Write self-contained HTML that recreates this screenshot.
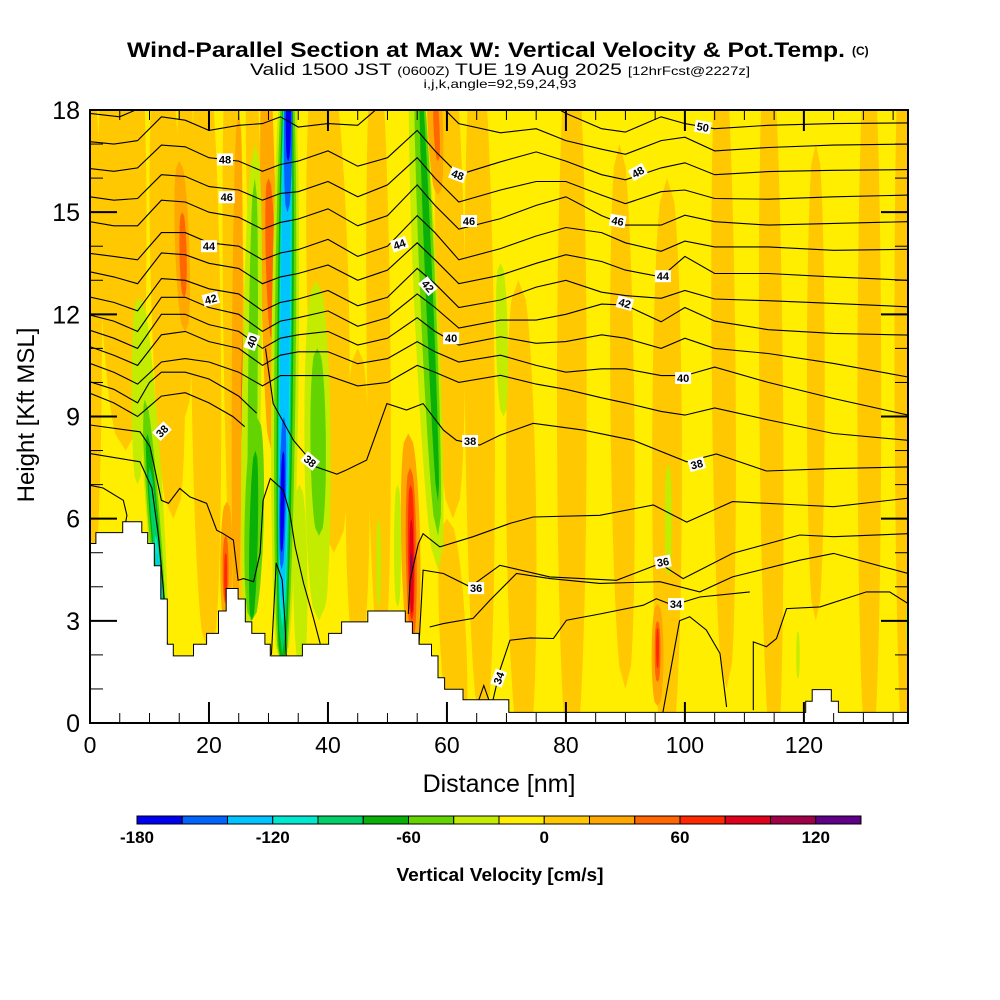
<!DOCTYPE html>
<html><head><meta charset="utf-8"><style>
html,body{margin:0;padding:0;background:#fff;}
svg{display:block;font-family:"Liberation Sans",sans-serif;}
</style></head><body>
<svg id="chart" width="1000" height="1000" viewBox="0 0 1000 1000" xmlns="http://www.w3.org/2000/svg">
<defs><clipPath id="plotclip"><rect x="90" y="110" width="818" height="613"/></clipPath></defs>
<rect x="0" y="0" width="1000" height="1000" fill="#fff"/>
<text x="127" y="57" font-size="21" font-weight="bold" textLength="718" lengthAdjust="spacingAndGlyphs">Wind-Parallel Section at Max W: Vertical Velocity &amp; Pot.Temp.</text>
<text x="852" y="55" font-size="12" font-weight="bold">(C)</text>
<text x="250" y="75" font-size="17" textLength="500" lengthAdjust="spacingAndGlyphs">Valid 1500 JST <tspan font-size="12">(0600Z)</tspan> TUE 19 Aug 2025 <tspan font-size="12">[12hrFcst@2227z]</tspan></text>
<text x="500" y="88" font-size="12" text-anchor="middle" textLength="153" lengthAdjust="spacingAndGlyphs">i,j,k,angle=92,59,24,93</text>
<g id="field" clip-path="url(#plotclip)"></g>
<g id="axes"></g>
<g id="cbar"></g>
<text x="499" y="792" font-size="25" text-anchor="middle">Distance [nm]</text>
<text x="0" y="0" font-size="24" text-anchor="middle" transform="translate(34,415) rotate(-90)">Height [Kft MSL]</text>
<text x="500" y="881" font-size="18" font-weight="bold" text-anchor="middle" textLength="207" lengthAdjust="spacingAndGlyphs">Vertical Velocity [cm/s]</text>
</svg>
<script>
// ---- data ----
const binColors = ['#0000f0','#0064ff','#00c4ff','#00e8d0','#00d068','#08b008','#64d400','#c4ec00','#ffee00','#ffc800','#ffa800','#ff6600','#ff2800','#e0001c','#a00048','#600088'];
const binEdges = [-180,-160,-140,-120,-100,-80,-60,-40,-20,0,20,40,60,80,100,120,140];
const cbarTicks = [-180,-120,-60,0,60,120];
const xTicks = [0,20,40,60,80,100,120];
const yTicks = [0,3,6,9,12,15,18];

// velocity features: top x, bottom x, top height, bottom height, half width (nm), value (cm/s)
const blobXTop = [4,12,19,23.5,39,48,60,65,72,81,89,97,106,114,122,131,136.5,0,45,60,8,27,16,
  15,25,29.5,23,53.5,57.5,95.4,15.5,26.2,30,22.8,53.8,58,95.4,22.8,26,53.9,95.4,54,54,
  8.5,9.2,9.6,10,11,11.2,27.8,27.7,28,27.8,38,38.2,54.5,55,55.5,69,97.2,119,137.4,35.2,39.5,48.5,51.7,8,
  33.3,33.3,33.3,33.3,33.3,33.3,33.4,32.6,33.4,32.5];
const blobXBot = [6,14,20,25,41,49,61,66,73,81,90,97,107,115,122,131,137,0,45,62,8,28,16,
  16,24.5,30.5,22.8,54.3,58.5,95.4,15.8,25.8,30.7,22.8,54.2,58.5,95.4,22.8,25.8,54.1,95.4,54.1,54,
  12.5,12.5,12.4,12.3,12,12,26.5,27,27.2,27.2,38.5,38.5,58.5,58.5,58.5,69.5,97.2,119,137.4,35.5,39.5,48.5,51.7,8,
  32.3,32.3,32.3,32.3,32.3,32.3,33.2,32.2,33.3,32.2];
const blobHTop = [20,20,20,20,20,20,20,20,13,20,17,16,20,20,17,20,20,19,11,6,20,20,20,
  16.5,18,20,6.5,8.5,20,3.5,15,12,16,5.5,7.5,18.5,3,5,11,7,2.8,6,5,
  12.5,9.5,8.5,7.5,5.5,5,17,16,9,8,13,11,20,20,19,13.5,7.6,2.7,3.5,7,5.5,6,7,12.5,
  20,20,20,20,20,20,20,9,19,8];
const blobHBot = [8,6,2,2,5,2,6,0,-1,-1,1,-1,1,-1,3,-1,-1,4,2,-1,9,12,9,
  11.5,3,8,3,2,15.5,0.5,12.5,8,11.2,3.5,2.5,16.5,1.2,3.6,9,3,1.6,3.2,4.2,
  2,2,2.5,3,3.5,3.8,2.5,3,3,3,3,5.5,4.5,5.5,6.5,9,4.3,1.3,2.3,1.5,3.5,3.4,3.4,7,
  1.5,1.5,1.5,2,2.8,3.3,15,4.5,16.5,5];
const blobW = [3.5,2.8,2.5,1.8,3.5,2,2.5,2.5,2.5,2.5,2,2.5,2,2,1.5,2,1.5,2,2,2.2,1.5,1.2,1.5,
  1.2,0.9,1.3,1.0,1.6,1.3,1.0,0.6,0.6,0.8,0.5,0.9,0.5,0.5,0.25,0.3,0.55,0.25,0.35,0.2,
  1.5,1.0,0.7,0.5,0.3,0.2,1.6,0.8,1.6,0.7,2.2,1.3,2.0,1.3,0.6,1.0,0.6,0.3,0.3,1.2,0.5,0.4,0.6,1.0,
  2.3,1.8,1.35,1.1,0.95,0.8,0.7,0.55,0.45,0.35];
const blobVal = [10,10,10,10,10,10,10,10,10,10,10,10,10,10,10,10,10,10,10,10,10,10,10,
  30,30,30,30,30,30,30,50,50,50,50,50,50,50,70,70,70,70,90,110,
  -30,-50,-70,-90,-105,-130,-30,-50,-50,-70,-30,-50,-30,-50,-70,-30,-30,-30,-30,-30,-30,-30,-30,-30,
  -30,-50,-70,-90,-105,-130,-150,-150,-170,-170];

// terrain (step breakpoints, nm / kft)
const terrainX = [0,1.0,5.5,8.7,9.7,10.8,11.9,13.0,14.0,17.4,19.6,21.6,22.9,24.9,26.1,27.2,29.4,30.3,35.7,40.1,42.3,46.7,53.0,54.2,55.3,57.4,58.5,59.6,62.7,70.4,120.3,121.4,124.6,125.8];
const terrainH = [5.27,5.59,5.91,5.59,5.27,4.62,3.64,2.31,1.97,2.31,2.63,3.29,3.95,3.64,2.97,2.63,2.31,1.97,2.31,2.63,2.97,3.29,2.97,2.63,2.31,1.97,1.33,0.99,0.68,0.31,0.64,0.98,0.64,0.31];

// potential temperature contours at common stations
const thetaX = [0,4,8,12,16,20,25,29,32,35,40,45,50,55,58,62,69,75,80,86,90,96,100,105,114,125,137.5];
const theta50 = [18.6,18.6,18.6,18.6,18.6,18.6,18.6,18.6,18.6,18.6,18.6,18.6,18.6,18.6,18.6,18.6,18.6,18.4,17.9,17.45,17.35,17.8,17.6,17.45,17.55,17.6,17.62];
const theta49 = [17.07,17.0,17.1,17.8,17.7,17.4,17.55,17.6,17.8,17.5,17.6,17.55,18.3,18.5,18.3,17.6,17.33,17.45,17.1,16.85,16.7,17.1,17.2,16.8,16.9,16.97,17.0];
const theta48 = [16.28,16.2,16.3,16.97,16.92,16.6,16.5,16.2,16.4,16.5,16.8,16.35,16.6,17.4,16.8,16.1,16.48,16.77,16.5,16.1,15.95,16.3,16.45,16.1,16.19,16.23,16.25];
const theta47 = [15.45,15.35,15.4,16.1,16.05,15.75,15.65,15.35,15.55,15.6,15.9,15.45,15.8,16.6,16.0,15.3,15.65,15.9,15.9,15.5,15.25,15.6,15.65,15.4,15.38,15.45,15.5];
const theta46 = [14.72,14.6,14.6,15.35,15.3,15.0,14.85,14.5,14.7,14.8,15.1,14.6,14.9,15.8,15.2,14.5,14.81,15.2,15.45,14.9,14.62,14.62,14.91,14.72,14.62,14.67,14.72];
const theta45 = [13.79,13.7,13.6,14.4,14.4,14.1,14.0,13.6,13.8,13.9,14.2,13.7,14.0,14.9,14.4,13.6,13.93,14.3,14.55,14.4,14.1,13.85,14.15,13.98,13.98,13.88,13.91];
const theta44 = [13.25,13.1,12.9,13.8,13.75,13.5,13.35,12.9,13.1,13.2,13.45,13.0,13.3,14.1,13.6,12.9,13.15,13.5,13.75,13.55,13.3,13.1,13.7,13.2,13.2,13.1,13.0];
const theta43 = [12.51,12.35,12.1,13.05,13.0,12.75,12.6,12.1,12.35,12.45,12.7,12.25,12.5,13.35,12.9,12.2,12.42,12.8,13.0,12.65,12.55,12.47,12.7,12.45,12.4,12.32,12.22];
const theta42 = [11.98,11.8,11.5,12.5,12.5,12.2,12.0,11.5,11.8,11.9,12.1,11.65,11.9,12.6,12.2,11.6,11.83,11.83,12.0,12.3,12.27,11.78,12.2,11.8,11.55,11.44,11.39];
const theta41 = [11.53,11.3,11.0,12.0,12.0,11.7,11.5,11.0,11.3,11.4,11.5,11.1,11.3,11.9,11.5,11.1,11.34,11.15,11.2,11.4,11.3,11.0,11.3,11.0,10.85,10.56,10.16];
const theta40 = [11.05,10.8,10.5,11.4,11.5,11.2,11.0,10.5,10.8,10.9,10.9,10.55,10.7,11.2,10.9,10.6,10.8,10.5,10.3,10.4,10.4,10.2,10.2,10.45,10.0,9.53,9.04];
const theta39 = [10.56,10.3,9.95,10.6,10.7,10.6,10.3,9.9,10.2,10.2,10.2,9.9,10.0,10.5,10.3,10.0,10.21,9.95,9.8,9.55,9.4,9.15,9.04,9.25,8.9,8.5,8.3];

// partial contours with their own stations
const partXs = [
  [0,4,8,10,12,16,20,25,28],
  [0,4,8,10,12,16,20,24,26],
  [0,8.4,10.1,12.0,13.2,15.1,16.8,19.6,21.3,22.4,24.1,24.9,25.8,27.5,28.6,29.1,30.3,32.5,33.6,34.5,35.9,37.5,38.7],
  [0,8.4,10.4,11.5,12.3,13.0],
  [0,2.2,5.6,6.2,6.0],
  [29.5,30.8,34.2,38,41.5,43.1,46.5,49.9,53.2,56,59.4,61.6,65.5,68.9,74.5,82.9,91.3,100.3,105.3,113.7,125,137.5],
  [53.5,53.8,55.2,56,58.8,64.4,70.6,74.5,85.7,94.7,100.3,108,119.3,125,137.5],
  [55.3,56,59.4,63.9,68.9,77.3,88.5,95.8,99.7,108,119.3,125,137.5],
  [57.1,59.4,64.4,67.2,71.7,77.3,85.7,95.8,102.5,108,119.3,125,137.5],
  [67.5,68.9,70.6,74,77.9,80.1,85.7,93,95.2,98,102.5,110.9],
  [65.1,66.2,67.2],
  [96.3,99.1,100.8,103.6,105.9,107],
  [111.5,111.5,113.7,115.4,117.1,122.7,130.5,134.4,137.5],
  [30.5,31.3,32.3,32.8,33.0],
  [0,5,9,11]
];
const partHs = [
  [10.02,9.8,9.4,10.0,10.3,10.3,10.1,9.6,9.1],
  [9.68,9.4,9.0,9.3,9.6,9.7,9.4,9.0,8.7],
  [8.75,8.55,8.11,6.54,6.45,6.89,6.64,6.45,5.66,5.56,5.37,4.19,4.24,4.15,4.98,6.54,7.18,6.84,6.15,5.17,4.1,3.12,2.33],
  [7.91,7.67,6.9,5.5,4.0,2.3],
  [6.98,6.9,6.54,6.1,5.9],
  [11.0,9.38,8.3,7.52,7.31,7.43,7.72,9.38,9.19,9.38,8.6,8.3,8.16,8.45,8.8,8.6,8.3,7.67,7.9,7.4,7.47,7.52],
  [3.2,4.19,5.27,5.56,5.17,5.47,5.86,6.05,6.1,6.4,5.9,6.5,6.4,6.35,6.6],
  [2.3,4.49,4.39,4.0,4.63,4.29,4.19,4.68,4.24,4.98,5.52,5.47,5.56],
  [2.82,2.92,3.07,3.6,4.39,4.24,4.1,4.15,3.85,4.29,4.78,4.98,4.39],
  [0.5,1.55,2.43,2.5,2.48,3.02,3.2,3.46,3.65,3.46,3.7,3.85],
  [0.55,1.1,0.6],
  [0.31,3.0,3.12,2.73,2.04,0.47],
  [0.38,2.38,2.24,2.48,3.36,3.41,3.85,3.85,3.51],
  [2.0,4.7,4.2,2.9,1.9],
  [17.9,17.8,18.1,18.5]
];

// contour labels
const labelText = ['48','46','44','42','40','38','38','48','46','44','42','40','38','36','34','50','48','46','44','42','40','38','36','34'];
const labelX = [22.7,23.0,20.0,20.3,27.2,12.1,37.0,61.8,63.7,52.0,56.8,60.7,63.9,64.9,68.7,103,92.1,88.7,96.3,89.9,99.7,102,96.3,98.5];
const labelH = [16.55,15.44,14.0,12.45,11.2,8.57,7.69,16.1,14.74,14.06,12.83,11.3,8.28,3.96,1.32,17.5,16.18,14.74,13.12,12.33,10.13,7.6,4.73,3.49];
const labelRot = [0,0,0,-15,-70,-45,40,20,0,-20,50,0,0,0,-70,10,-30,10,0,15,0,-15,-10,0];

// ---- drawing ----
const NS = 'http://www.w3.org/2000/svg';
const X0 = 90, X1 = 908, Y0 = 723, Y1 = 110, XMAX = 137.5, YMAX = 18;
function sx(v){ return X0 + v * (X1 - X0) / XMAX; }
function sy(v){ return Y0 - v * (Y0 - Y1) / YMAX; }
function colorFor(v){
  let i = Math.floor((v - binEdges[0]) / 20);
  if (i < 0) i = 0; if (i > binColors.length - 1) i = binColors.length - 1;
  return binColors[i];
}
function mk(tag, attrs, parent){
  const e = document.createElementNS(NS, tag);
  for (const k in attrs) e.setAttribute(k, attrs[k]);
  parent.appendChild(e);
  return e;
}
const field = document.getElementById('field');
const axes = document.getElementById('axes');
const cbar = document.getElementById('cbar');

const bg = mk('rect', {x:X0, y:Y1, width:X1-X0, height:Y0-Y1, fill:colorFor(-10)}, field);



for (let i = 0; i < blobVal.length; i++) {
  const left = [], right = [];
  const n = 24;
  for (let k = 0; k <= n; k++) {
    const t = k / n;
    const h = blobHTop[i] + (blobHBot[i] - blobHTop[i]) * t;
    const c = blobXTop[i] + (blobXBot[i] - blobXTop[i]) * t;
    const hw = blobW[i] * Math.pow(Math.sin(Math.PI * t), 0.35);
    left.push(sx(c - hw).toFixed(1) + ',' + sy(h).toFixed(1));
    right.unshift(sx(c + hw).toFixed(1) + ',' + sy(h).toFixed(1));
  }
  const p = mk('polygon', {points: left.concat(right).join(' '), fill: colorFor(blobVal[i])}, field);
  
  
}

function drawLine(xs, hs, name){
  const pts = xs.map((x, j) => sx(x).toFixed(1) + ',' + sy(hs[j]).toFixed(1)).join(' ');
  const l = mk('polyline', {points: pts, fill:'none', stroke:'#000', 'stroke-width':1.1}, field);
  
  
}
const thetaRows = [theta50,theta49,theta48,theta47,theta46,theta45,theta44,theta43,theta42,theta41,theta40,theta39];
thetaRows.forEach(r => drawLine(thetaX, r, 'theta-contour'));
partXs.forEach((xs, i) => drawLine(xs, partHs[i], 'theta-contour'));

// terrain mask
let tp = [];
for (let i = 0; i < terrainX.length; i++) {
  const xa = terrainX[i], xb = (i + 1 < terrainX.length) ? terrainX[i + 1] : XMAX;
  tp.push(sx(xa).toFixed(1) + ',' + sy(terrainH[i]).toFixed(1));
  tp.push(sx(xb).toFixed(1) + ',' + sy(terrainH[i]).toFixed(1));
}
tp.push(sx(XMAX) + ',' + (Y0 + 2)); tp.push(sx(0) + ',' + (Y0 + 2));
const terr = mk('polygon', {points: tp.join(' '), fill:'#fff', stroke:'#000', 'stroke-width':1}, field);



// labels
for (let i = 0; i < labelText.length; i++) {
  const g = mk('g', {transform: 'translate(' + sx(labelX[i]).toFixed(1) + ',' + sy(labelH[i]).toFixed(1) + ') rotate(' + labelRot[i] + ')'}, field);
  
  
  mk('rect', {x:-8, y:-6, width:16, height:12, fill:'#fff'}, g);
  const t = mk('text', {x:0, y:4, 'font-size':11, 'font-weight':'bold', 'text-anchor':'middle'}, g);
  t.textContent = labelText[i];
}

// frame & ticks
const frame = mk('rect', {x:X0, y:Y1, width:X1-X0, height:Y0-Y1, fill:'none', stroke:'#000', 'stroke-width':2}, axes);


for (let v = 0; v <= XMAX; v += 5) {
  const major = v % 20 === 0;
  const L = major ? 21 : 10;
  mk('line', {x1:sx(v), x2:sx(v), y1:Y0, y2:Y0 - L, stroke:'#000', 'stroke-width': major ? 2 : 1}, axes);
  mk('line', {x1:sx(v), x2:sx(v), y1:Y1, y2:Y1 + L, stroke:'#000', 'stroke-width': major ? 2 : 1}, axes);
}
for (let v = 0; v <= YMAX; v += 1) {
  const major = v % 3 === 0;
  const L = major ? 27 : 13;
  mk('line', {x1:X0, x2:X0 + L, y1:sy(v), y2:sy(v), stroke:'#000', 'stroke-width': major ? 2 : 1}, axes);
  mk('line', {x1:X1, x2:X1 - L, y1:sy(v), y2:sy(v), stroke:'#000', 'stroke-width': major ? 2 : 1}, axes);
}
xTicks.forEach(v => {
  const t = mk('text', {x:sx(v), y:753, 'font-size':23, 'text-anchor':'middle'}, axes);
  
  
  t.textContent = v;
});
yTicks.forEach(v => {
  const t = mk('text', {x:80, y:sy(v) + 9, 'font-size':25, 'text-anchor':'end'}, axes);
  
  
  t.textContent = v;
});

// colorbar
const CB0 = 137, CB1 = 861;
function cx(v){ return CB0 + (v - binEdges[0]) * (CB1 - CB0) / (binEdges[binEdges.length - 1] - binEdges[0]); }
for (let i = 0; i < binColors.length; i++) {
  const r = mk('rect', {x:cx(binEdges[i]), y:816, width:cx(binEdges[i+1]) - cx(binEdges[i]), height:8, fill:binColors[i], stroke:'#000', 'stroke-width':1}, cbar);
  
  
}
cbarTicks.forEach(v => {
  const t = mk('text', {x:cx(v), y:843, 'font-size':17, 'font-weight':'bold', 'text-anchor':'middle'}, cbar);
  
  
  t.textContent = v;
});
</script>
</body></html>
